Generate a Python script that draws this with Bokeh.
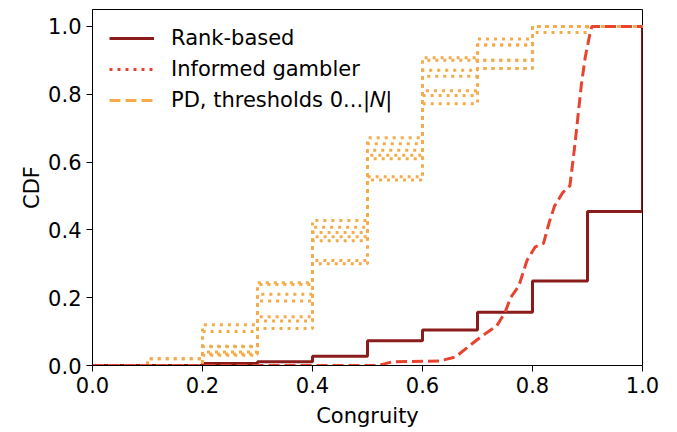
from bokeh.plotting import figure
from bokeh.models import Legend, LegendItem, FixedTicker, PrintfTickFormatter, Range1d
from bokeh.embed import file_html
from bokeh.resources import INLINE

# ---------------- data ----------------
bins = [0.0, 0.1, 0.2, 0.3, 0.4, 0.5, 0.6, 0.7, 0.8, 0.9, 1.0]

rank_cdf = [0.0, 0.0, 0.006, 0.011, 0.027, 0.073, 0.105, 0.157, 0.249, 0.454, 1.0]

gambler_x = [0.0, 0.52, 0.545, 0.63, 0.66, 0.685, 0.705, 0.735, 0.75, 0.76, 0.775,
             0.79, 0.805, 0.82, 0.83, 0.84, 0.855, 0.868, 0.877, 0.889, 0.896,
             0.904, 0.908, 1.0]
gambler_y = [0.0, 0.0, 0.011, 0.013, 0.025, 0.058, 0.083, 0.117, 0.156, 0.20, 0.234,
             0.31, 0.35, 0.36, 0.42, 0.47, 0.51, 0.53, 0.65, 0.83, 0.91,
             0.975, 1.0, 1.0]

pd_t0 = [0.0, 0.02, 0.120, 0.244, 0.428, 0.672, 0.908, 0.963, 1.0, 1.0, 1.0]
pd_t1 = [0.0, 0.02, 0.100, 0.239, 0.408, 0.654, 0.900, 0.945, 0.982, 1.0, 1.0]
pd_t2 = [0.0, 0.0, 0.057, 0.210, 0.392, 0.635, 0.871, 0.945, 1.0, 1.0, 1.0]
pd_t3 = [0.0, 0.0, 0.055, 0.190, 0.380, 0.620, 0.853, 0.900, 1.0, 1.0, 1.0]
pd_t4 = [0.0, 0.0, 0.040, 0.144, 0.368, 0.610, 0.810, 0.900, 1.0, 1.0, 1.0]
pd_t5 = [0.0, 0.0, 0.034, 0.131, 0.310, 0.557, 0.796, 0.876, 1.0, 1.0, 1.0]
pd_t6 = [0.0, 0.0, 0.030, 0.109, 0.300, 0.547, 0.772, 0.876, 1.0, 1.0, 1.0]
pd_curves = [pd_t0, pd_t1, pd_t2, pd_t3, pd_t4, pd_t5, pd_t6]

x_ticks = [0.0, 0.2, 0.4, 0.6, 0.8, 1.0]
y_ticks = [0.0, 0.2, 0.4, 0.6, 0.8, 1.0]

labels = ["Rank-based", "Informed gambler", "PD, thresholds 0...|\U0001D441|"]

# ---------------- styling ----------------
C_RANK = "#8b1c1c"
C_GAMB = "#e8432e"
C_PD = "#f5ab4c"
FONT = "DejaVu Sans"
FS = "21px"

p = figure(width=672, height=430, x_range=Range1d(0, 1), y_range=Range1d(0, 1.05),
           output_backend="svg", toolbar_location=None,
           min_border_left=92, min_border_right=30, min_border_top=9, min_border_bottom=64)
p.xgrid.visible = False
p.ygrid.visible = False
p.outline_line_color = "black"
p.outline_line_width = 1
p.outline_line_alpha = 1
p.background_fill_color = "white"
p.border_fill_color = "white"

p.step(bins, rank_cdf, mode="after", line_width=3, line_color=C_RANK)
for c in pd_curves:
    p.step(bins, c, mode="after", line_width=3, line_color=C_PD, line_dash="3 5")
p.line(gambler_x, gambler_y, line_width=3, line_color=C_GAMB, line_dash="11 5")

# legend proxies (legend styles differ from drawn curves, as in the original)
nan = float("nan")
r1 = p.line([0], [nan], line_width=3, line_color=C_RANK)
r2 = p.line([0], [nan], line_width=3, line_color=C_GAMB, line_dash="3 5")
r3 = p.line([0], [nan], line_width=3, line_color=C_PD, line_dash="11 5")

legend = Legend(items=[LegendItem(label=labels[0], renderers=[r1]),
                       LegendItem(label=labels[1], renderers=[r2]),
                       LegendItem(label=labels[2], renderers=[r3])],
                location="top_left")
legend.label_text_font = FONT
legend.label_text_font_size = FS
legend.label_text_color = "black"
legend.glyph_width = 45
legend.glyph_height = 20
legend.label_standoff = 17
legend.spacing = 7
legend.padding = 14
legend.margin = 3
legend.border_line_alpha = 0
legend.background_fill_alpha = 0
p.add_layout(legend)

p.xaxis.ticker = FixedTicker(ticks=x_ticks)
p.yaxis.ticker = FixedTicker(ticks=y_ticks)
p.xaxis.formatter = PrintfTickFormatter(format="%.1f")
p.yaxis.formatter = PrintfTickFormatter(format="%.1f")
p.xaxis.axis_label = "Congruity"
p.yaxis.axis_label = "CDF"
for ax in (p.xaxis, p.yaxis):
    ax.axis_line_color = "black"
    ax.major_tick_line_color = "black"
    ax.major_tick_out = 6
    ax.major_tick_in = 0
    ax.minor_tick_line_color = None
    ax.major_label_text_font = FONT
    ax.major_label_text_font_size = FS
    ax.major_label_text_color = "black"
    ax.axis_label_text_font = FONT
    ax.axis_label_text_font_size = FS
    ax.axis_label_text_color = "black"
    ax.axis_label_text_font_style = "normal"
    ax.major_label_standoff = 5
p.xaxis.axis_label_standoff = 8
p.yaxis.axis_label_standoff = 1

open("out.html", "w").write(file_html(p, INLINE))
